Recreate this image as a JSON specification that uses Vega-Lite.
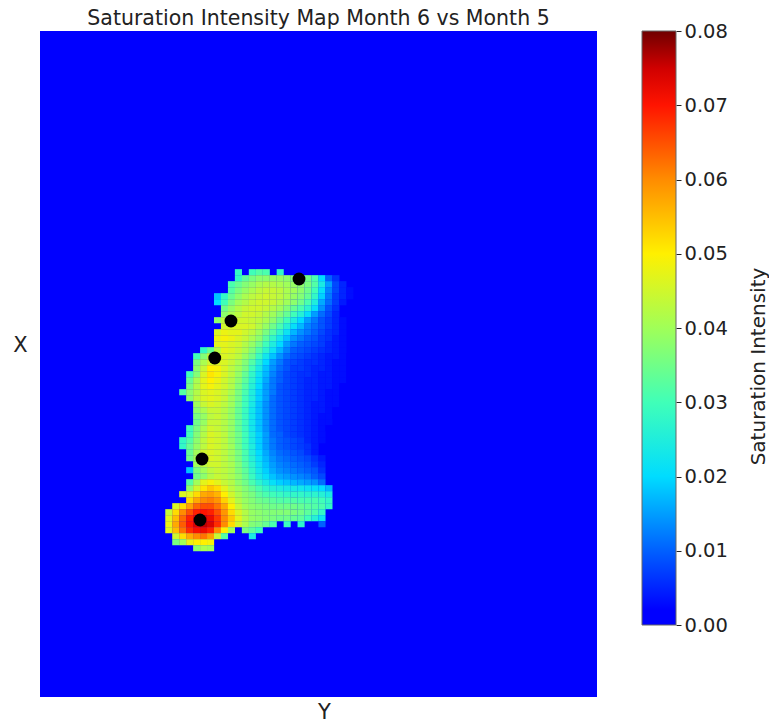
{"$schema":"https://vega.github.io/schema/vega-lite/v6.json","padding":{"left":12,"top":8,"right":93,"bottom":27},"background":"white","config":{"font":"DejaVu Sans","view":{"stroke":null}},"bounds":"flush","spacing":45,
"datasets":{"cells":[
{"c":28,"r":40,"v":0.028},{"c":30,"r":40,"v":0.03},{"c":31,"r":40,"v":0.032},{"c":32,"r":40,"v":0.031},{"c":34,"r":40,"v":0.028},
{"c":28,"r":41,"v":0.028},{"c":29,"r":41,"v":0.033},{"c":30,"r":41,"v":0.036},{"c":31,"r":41,"v":0.038},{"c":32,"r":41,"v":0.038},{"c":33,"r":41,"v":0.039},{"c":34,"r":41,"v":0.039},{"c":35,"r":41,"v":0.038},{"c":36,"r":41,"v":0.037},{"c":37,"r":41,"v":0.036},{"c":38,"r":41,"v":0.035},{"c":39,"r":41,"v":0.031},{"c":40,"r":41,"v":0.02},{"c":41,"r":41,"v":0.01},{"c":42,"r":41,"v":0.006},
{"c":27,"r":42,"v":0.031},{"c":28,"r":42,"v":0.034},{"c":29,"r":42,"v":0.037},{"c":30,"r":42,"v":0.039},{"c":31,"r":42,"v":0.041},{"c":32,"r":42,"v":0.042},{"c":33,"r":42,"v":0.042},{"c":34,"r":42,"v":0.041},{"c":35,"r":42,"v":0.04},{"c":36,"r":42,"v":0.039},{"c":37,"r":42,"v":0.038},{"c":38,"r":42,"v":0.036},{"c":39,"r":42,"v":0.032},{"c":40,"r":42,"v":0.024},{"c":41,"r":42,"v":0.015},{"c":42,"r":42,"v":0.008},{"c":43,"r":42,"v":0.005},
{"c":27,"r":43,"v":0.032},{"c":28,"r":43,"v":0.036},{"c":29,"r":43,"v":0.039},{"c":30,"r":43,"v":0.041},{"c":31,"r":43,"v":0.043},{"c":32,"r":43,"v":0.044},{"c":33,"r":43,"v":0.044},{"c":34,"r":43,"v":0.043},{"c":35,"r":43,"v":0.041},{"c":36,"r":43,"v":0.04},{"c":37,"r":43,"v":0.038},{"c":38,"r":43,"v":0.035},{"c":39,"r":43,"v":0.03},{"c":40,"r":43,"v":0.021},{"c":41,"r":43,"v":0.013},{"c":42,"r":43,"v":0.008},{"c":43,"r":43,"v":0.005},{"c":44,"r":43,"v":0.003},
{"c":25,"r":44,"v":0.018},{"c":26,"r":44,"v":0.028},{"c":27,"r":44,"v":0.034},{"c":28,"r":44,"v":0.038},{"c":29,"r":44,"v":0.041},{"c":30,"r":44,"v":0.043},{"c":31,"r":44,"v":0.044},{"c":32,"r":44,"v":0.045},{"c":33,"r":44,"v":0.044},{"c":34,"r":44,"v":0.043},{"c":35,"r":44,"v":0.041},{"c":36,"r":44,"v":0.039},{"c":37,"r":44,"v":0.037},{"c":38,"r":44,"v":0.034},{"c":39,"r":44,"v":0.028},{"c":40,"r":44,"v":0.019},{"c":41,"r":44,"v":0.012},{"c":42,"r":44,"v":0.007},{"c":43,"r":44,"v":0.005},{"c":44,"r":44,"v":0.003},
{"c":25,"r":45,"v":0.02},{"c":26,"r":45,"v":0.03},{"c":27,"r":45,"v":0.036},{"c":28,"r":45,"v":0.04},{"c":29,"r":45,"v":0.042},{"c":30,"r":45,"v":0.044},{"c":31,"r":45,"v":0.045},{"c":32,"r":45,"v":0.045},{"c":33,"r":45,"v":0.044},{"c":34,"r":45,"v":0.042},{"c":35,"r":45,"v":0.04},{"c":36,"r":45,"v":0.038},{"c":37,"r":45,"v":0.035},{"c":38,"r":45,"v":0.031},{"c":39,"r":45,"v":0.025},{"c":40,"r":45,"v":0.016},{"c":41,"r":45,"v":0.011},{"c":42,"r":45,"v":0.007},{"c":43,"r":45,"v":0.004},
{"c":26,"r":46,"v":0.035},{"c":27,"r":46,"v":0.039},{"c":28,"r":46,"v":0.042},{"c":29,"r":46,"v":0.044},{"c":30,"r":46,"v":0.045},{"c":31,"r":46,"v":0.045},{"c":32,"r":46,"v":0.044},{"c":33,"r":46,"v":0.042},{"c":34,"r":46,"v":0.04},{"c":35,"r":46,"v":0.037},{"c":36,"r":46,"v":0.034},{"c":37,"r":46,"v":0.031},{"c":38,"r":46,"v":0.027},{"c":39,"r":46,"v":0.021},{"c":40,"r":46,"v":0.014},{"c":41,"r":46,"v":0.009},{"c":42,"r":46,"v":0.006},
{"c":26,"r":47,"v":0.038},{"c":27,"r":47,"v":0.041},{"c":28,"r":47,"v":0.043},{"c":29,"r":47,"v":0.045},{"c":30,"r":47,"v":0.045},{"c":31,"r":47,"v":0.044},{"c":32,"r":47,"v":0.042},{"c":33,"r":47,"v":0.04},{"c":34,"r":47,"v":0.037},{"c":35,"r":47,"v":0.034},{"c":36,"r":47,"v":0.03},{"c":37,"r":47,"v":0.026},{"c":38,"r":47,"v":0.021},{"c":39,"r":47,"v":0.015},{"c":40,"r":47,"v":0.011},{"c":41,"r":47,"v":0.008},{"c":42,"r":47,"v":0.005},
{"c":25,"r":48,"v":0.038},{"c":26,"r":48,"v":0.043},{"c":27,"r":48,"v":0.045},{"c":28,"r":48,"v":0.045},{"c":29,"r":48,"v":0.045},{"c":30,"r":48,"v":0.044},{"c":31,"r":48,"v":0.043},{"c":32,"r":48,"v":0.041},{"c":33,"r":48,"v":0.038},{"c":34,"r":48,"v":0.034},{"c":35,"r":48,"v":0.03},{"c":36,"r":48,"v":0.025},{"c":37,"r":48,"v":0.02},{"c":38,"r":48,"v":0.015},{"c":39,"r":48,"v":0.012},{"c":40,"r":48,"v":0.009},{"c":41,"r":48,"v":0.007},{"c":42,"r":48,"v":0.005},{"c":43,"r":48,"v":0.003},
{"c":26,"r":49,"v":0.045},{"c":27,"r":49,"v":0.046},{"c":28,"r":49,"v":0.046},{"c":29,"r":49,"v":0.046},{"c":30,"r":49,"v":0.045},{"c":31,"r":49,"v":0.042},{"c":32,"r":49,"v":0.039},{"c":33,"r":49,"v":0.035},{"c":34,"r":49,"v":0.031},{"c":35,"r":49,"v":0.026},{"c":36,"r":49,"v":0.021},{"c":37,"r":49,"v":0.017},{"c":38,"r":49,"v":0.013},{"c":39,"r":49,"v":0.011},{"c":40,"r":49,"v":0.009},{"c":41,"r":49,"v":0.007},{"c":42,"r":49,"v":0.005},{"c":43,"r":49,"v":0.003},
{"c":25,"r":50,"v":0.046},{"c":26,"r":50,"v":0.048},{"c":27,"r":50,"v":0.047},{"c":28,"r":50,"v":0.047},{"c":29,"r":50,"v":0.045},{"c":30,"r":50,"v":0.043},{"c":31,"r":50,"v":0.04},{"c":32,"r":50,"v":0.036},{"c":33,"r":50,"v":0.032},{"c":34,"r":50,"v":0.027},{"c":35,"r":50,"v":0.022},{"c":36,"r":50,"v":0.017},{"c":37,"r":50,"v":0.014},{"c":38,"r":50,"v":0.012},{"c":39,"r":50,"v":0.01},{"c":40,"r":50,"v":0.008},{"c":41,"r":50,"v":0.006},{"c":42,"r":50,"v":0.005},{"c":43,"r":50,"v":0.003},
{"c":25,"r":51,"v":0.048},{"c":26,"r":51,"v":0.049},{"c":27,"r":51,"v":0.048},{"c":28,"r":51,"v":0.046},{"c":29,"r":51,"v":0.044},{"c":30,"r":51,"v":0.041},{"c":31,"r":51,"v":0.038},{"c":32,"r":51,"v":0.033},{"c":33,"r":51,"v":0.028},{"c":34,"r":51,"v":0.023},{"c":35,"r":51,"v":0.018},{"c":36,"r":51,"v":0.014},{"c":37,"r":51,"v":0.012},{"c":38,"r":51,"v":0.01},{"c":39,"r":51,"v":0.009},{"c":40,"r":51,"v":0.007},{"c":41,"r":51,"v":0.006},{"c":42,"r":51,"v":0.004},{"c":43,"r":51,"v":0.003},
{"c":25,"r":52,"v":0.047},{"c":26,"r":52,"v":0.047},{"c":27,"r":52,"v":0.046},{"c":28,"r":52,"v":0.045},{"c":29,"r":52,"v":0.042},{"c":30,"r":52,"v":0.039},{"c":31,"r":52,"v":0.035},{"c":32,"r":52,"v":0.03},{"c":33,"r":52,"v":0.025},{"c":34,"r":52,"v":0.02},{"c":35,"r":52,"v":0.015},{"c":36,"r":52,"v":0.012},{"c":37,"r":52,"v":0.01},{"c":38,"r":52,"v":0.009},{"c":39,"r":52,"v":0.008},{"c":40,"r":52,"v":0.007},{"c":41,"r":52,"v":0.005},{"c":42,"r":52,"v":0.004},{"c":43,"r":52,"v":0.003},
{"c":23,"r":53,"v":0.028},{"c":24,"r":53,"v":0.034},{"c":25,"r":53,"v":0.043},{"c":26,"r":53,"v":0.047},{"c":27,"r":53,"v":0.046},{"c":28,"r":53,"v":0.044},{"c":29,"r":53,"v":0.041},{"c":30,"r":53,"v":0.037},{"c":31,"r":53,"v":0.032},{"c":32,"r":53,"v":0.027},{"c":33,"r":53,"v":0.022},{"c":34,"r":53,"v":0.017},{"c":35,"r":53,"v":0.013},{"c":36,"r":53,"v":0.01},{"c":37,"r":53,"v":0.009},{"c":38,"r":53,"v":0.008},{"c":39,"r":53,"v":0.007},{"c":40,"r":53,"v":0.006},{"c":41,"r":53,"v":0.005},{"c":42,"r":53,"v":0.004},{"c":43,"r":53,"v":0.003},
{"c":22,"r":54,"v":0.03},{"c":23,"r":54,"v":0.037},{"c":24,"r":54,"v":0.043},{"c":25,"r":54,"v":0.046},{"c":26,"r":54,"v":0.046},{"c":27,"r":54,"v":0.045},{"c":28,"r":54,"v":0.043},{"c":29,"r":54,"v":0.039},{"c":30,"r":54,"v":0.035},{"c":31,"r":54,"v":0.029},{"c":32,"r":54,"v":0.023},{"c":33,"r":54,"v":0.018},{"c":34,"r":54,"v":0.014},{"c":35,"r":54,"v":0.011},{"c":36,"r":54,"v":0.009},{"c":37,"r":54,"v":0.008},{"c":38,"r":54,"v":0.007},{"c":39,"r":54,"v":0.006},{"c":40,"r":54,"v":0.005},{"c":41,"r":54,"v":0.004},{"c":42,"r":54,"v":0.004},{"c":43,"r":54,"v":0.003},{"c":44,"r":54,"v":0.002},{"c":45,"r":54,"v":0.002},
{"c":22,"r":55,"v":0.036},{"c":23,"r":55,"v":0.041},{"c":24,"r":55,"v":0.045},{"c":25,"r":55,"v":0.046},{"c":26,"r":55,"v":0.046},{"c":27,"r":55,"v":0.044},{"c":28,"r":55,"v":0.041},{"c":29,"r":55,"v":0.037},{"c":30,"r":55,"v":0.032},{"c":31,"r":55,"v":0.026},{"c":32,"r":55,"v":0.02},{"c":33,"r":55,"v":0.015},{"c":34,"r":55,"v":0.012},{"c":35,"r":55,"v":0.009},{"c":36,"r":55,"v":0.008},{"c":37,"r":55,"v":0.007},{"c":38,"r":55,"v":0.006},{"c":39,"r":55,"v":0.006},{"c":40,"r":55,"v":0.005},{"c":41,"r":55,"v":0.004},{"c":42,"r":55,"v":0.003},{"c":43,"r":55,"v":0.003},{"c":44,"r":55,"v":0.002},{"c":45,"r":55,"v":0.002},
{"c":22,"r":56,"v":0.038},{"c":23,"r":56,"v":0.044},{"c":24,"r":56,"v":0.05},{"c":25,"r":56,"v":0.049},{"c":26,"r":56,"v":0.046},{"c":27,"r":56,"v":0.043},{"c":28,"r":56,"v":0.04},{"c":29,"r":56,"v":0.036},{"c":30,"r":56,"v":0.03},{"c":31,"r":56,"v":0.024},{"c":32,"r":56,"v":0.018},{"c":33,"r":56,"v":0.014},{"c":34,"r":56,"v":0.011},{"c":35,"r":56,"v":0.009},{"c":36,"r":56,"v":0.007},{"c":37,"r":56,"v":0.007},{"c":38,"r":56,"v":0.006},{"c":39,"r":56,"v":0.005},{"c":40,"r":56,"v":0.005},{"c":41,"r":56,"v":0.004},{"c":42,"r":56,"v":0.003},{"c":43,"r":56,"v":0.003},{"c":44,"r":56,"v":0.002},{"c":45,"r":56,"v":0.002},
{"c":21,"r":57,"v":0.03},{"c":22,"r":57,"v":0.037},{"c":23,"r":57,"v":0.046},{"c":24,"r":57,"v":0.051},{"c":25,"r":57,"v":0.049},{"c":26,"r":57,"v":0.046},{"c":27,"r":57,"v":0.043},{"c":28,"r":57,"v":0.039},{"c":29,"r":57,"v":0.034},{"c":30,"r":57,"v":0.028},{"c":31,"r":57,"v":0.022},{"c":32,"r":57,"v":0.017},{"c":33,"r":57,"v":0.013},{"c":34,"r":57,"v":0.01},{"c":35,"r":57,"v":0.008},{"c":36,"r":57,"v":0.007},{"c":37,"r":57,"v":0.006},{"c":38,"r":57,"v":0.006},{"c":39,"r":57,"v":0.005},{"c":40,"r":57,"v":0.004},{"c":41,"r":57,"v":0.004},{"c":42,"r":57,"v":0.003},{"c":43,"r":57,"v":0.003},{"c":44,"r":57,"v":0.002},{"c":45,"r":57,"v":0.002},
{"c":21,"r":58,"v":0.034},{"c":22,"r":58,"v":0.041},{"c":23,"r":58,"v":0.047},{"c":24,"r":58,"v":0.05},{"c":25,"r":58,"v":0.048},{"c":26,"r":58,"v":0.045},{"c":27,"r":58,"v":0.042},{"c":28,"r":58,"v":0.038},{"c":29,"r":58,"v":0.033},{"c":30,"r":58,"v":0.027},{"c":31,"r":58,"v":0.021},{"c":32,"r":58,"v":0.016},{"c":33,"r":58,"v":0.012},{"c":34,"r":58,"v":0.01},{"c":35,"r":58,"v":0.008},{"c":36,"r":58,"v":0.007},{"c":37,"r":58,"v":0.006},{"c":38,"r":58,"v":0.005},{"c":39,"r":58,"v":0.005},{"c":40,"r":58,"v":0.004},{"c":41,"r":58,"v":0.004},{"c":42,"r":58,"v":0.003},{"c":43,"r":58,"v":0.003},{"c":44,"r":58,"v":0.002},{"c":45,"r":58,"v":0.002},
{"c":21,"r":59,"v":0.036},{"c":22,"r":59,"v":0.042},{"c":23,"r":59,"v":0.047},{"c":24,"r":59,"v":0.049},{"c":25,"r":59,"v":0.047},{"c":26,"r":59,"v":0.045},{"c":27,"r":59,"v":0.042},{"c":28,"r":59,"v":0.037},{"c":29,"r":59,"v":0.032},{"c":30,"r":59,"v":0.026},{"c":31,"r":59,"v":0.02},{"c":32,"r":59,"v":0.015},{"c":33,"r":59,"v":0.012},{"c":34,"r":59,"v":0.009},{"c":35,"r":59,"v":0.008},{"c":36,"r":59,"v":0.007},{"c":37,"r":59,"v":0.006},{"c":38,"r":59,"v":0.005},{"c":39,"r":59,"v":0.005},{"c":40,"r":59,"v":0.004},{"c":41,"r":59,"v":0.004},{"c":42,"r":59,"v":0.003},{"c":43,"r":59,"v":0.002},{"c":44,"r":59,"v":0.002},
{"c":20,"r":60,"v":0.032},{"c":21,"r":60,"v":0.038},{"c":22,"r":60,"v":0.042},{"c":23,"r":60,"v":0.046},{"c":24,"r":60,"v":0.047},{"c":25,"r":60,"v":0.046},{"c":26,"r":60,"v":0.044},{"c":27,"r":60,"v":0.041},{"c":28,"r":60,"v":0.036},{"c":29,"r":60,"v":0.031},{"c":30,"r":60,"v":0.025},{"c":31,"r":60,"v":0.019},{"c":32,"r":60,"v":0.015},{"c":33,"r":60,"v":0.012},{"c":34,"r":60,"v":0.009},{"c":35,"r":60,"v":0.008},{"c":36,"r":60,"v":0.007},{"c":37,"r":60,"v":0.006},{"c":38,"r":60,"v":0.005},{"c":39,"r":60,"v":0.005},{"c":40,"r":60,"v":0.004},{"c":41,"r":60,"v":0.003},{"c":42,"r":60,"v":0.003},{"c":43,"r":60,"v":0.002},{"c":44,"r":60,"v":0.002},
{"c":21,"r":61,"v":0.038},{"c":22,"r":61,"v":0.043},{"c":23,"r":61,"v":0.046},{"c":24,"r":61,"v":0.047},{"c":25,"r":61,"v":0.046},{"c":26,"r":61,"v":0.044},{"c":27,"r":61,"v":0.04},{"c":28,"r":61,"v":0.036},{"c":29,"r":61,"v":0.03},{"c":30,"r":61,"v":0.025},{"c":31,"r":61,"v":0.019},{"c":32,"r":61,"v":0.015},{"c":33,"r":61,"v":0.011},{"c":34,"r":61,"v":0.009},{"c":35,"r":61,"v":0.008},{"c":36,"r":61,"v":0.007},{"c":37,"r":61,"v":0.006},{"c":38,"r":61,"v":0.005},{"c":39,"r":61,"v":0.005},{"c":40,"r":61,"v":0.004},{"c":41,"r":61,"v":0.003},{"c":42,"r":61,"v":0.003},{"c":43,"r":61,"v":0.002},
{"c":22,"r":62,"v":0.04},{"c":23,"r":62,"v":0.044},{"c":24,"r":62,"v":0.046},{"c":25,"r":62,"v":0.045},{"c":26,"r":62,"v":0.043},{"c":27,"r":62,"v":0.04},{"c":28,"r":62,"v":0.035},{"c":29,"r":62,"v":0.03},{"c":30,"r":62,"v":0.024},{"c":31,"r":62,"v":0.018},{"c":32,"r":62,"v":0.014},{"c":33,"r":62,"v":0.011},{"c":34,"r":62,"v":0.009},{"c":35,"r":62,"v":0.008},{"c":36,"r":62,"v":0.007},{"c":37,"r":62,"v":0.006},{"c":38,"r":62,"v":0.005},{"c":39,"r":62,"v":0.004},{"c":40,"r":62,"v":0.004},{"c":41,"r":62,"v":0.003},{"c":42,"r":62,"v":0.003},{"c":43,"r":62,"v":0.002},
{"c":22,"r":63,"v":0.038},{"c":23,"r":63,"v":0.041},{"c":24,"r":63,"v":0.044},{"c":25,"r":63,"v":0.044},{"c":26,"r":63,"v":0.042},{"c":27,"r":63,"v":0.039},{"c":28,"r":63,"v":0.034},{"c":29,"r":63,"v":0.029},{"c":30,"r":63,"v":0.023},{"c":31,"r":63,"v":0.018},{"c":32,"r":63,"v":0.014},{"c":33,"r":63,"v":0.011},{"c":34,"r":63,"v":0.009},{"c":35,"r":63,"v":0.008},{"c":36,"r":63,"v":0.007},{"c":37,"r":63,"v":0.006},{"c":38,"r":63,"v":0.005},{"c":39,"r":63,"v":0.004},{"c":40,"r":63,"v":0.004},{"c":41,"r":63,"v":0.003},{"c":42,"r":63,"v":0.002},{"c":43,"r":63,"v":0.002},
{"c":22,"r":64,"v":0.036},{"c":23,"r":64,"v":0.039},{"c":24,"r":64,"v":0.043},{"c":25,"r":64,"v":0.044},{"c":26,"r":64,"v":0.042},{"c":27,"r":64,"v":0.039},{"c":28,"r":64,"v":0.034},{"c":29,"r":64,"v":0.029},{"c":30,"r":64,"v":0.023},{"c":31,"r":64,"v":0.018},{"c":32,"r":64,"v":0.014},{"c":33,"r":64,"v":0.011},{"c":34,"r":64,"v":0.009},{"c":35,"r":64,"v":0.008},{"c":36,"r":64,"v":0.007},{"c":37,"r":64,"v":0.006},{"c":38,"r":64,"v":0.005},{"c":39,"r":64,"v":0.004},{"c":40,"r":64,"v":0.003},{"c":41,"r":64,"v":0.003},{"c":42,"r":64,"v":0.002},
{"c":22,"r":65,"v":0.035},{"c":23,"r":65,"v":0.039},{"c":24,"r":65,"v":0.044},{"c":25,"r":65,"v":0.044},{"c":26,"r":65,"v":0.042},{"c":27,"r":65,"v":0.039},{"c":28,"r":65,"v":0.034},{"c":29,"r":65,"v":0.029},{"c":30,"r":65,"v":0.023},{"c":31,"r":65,"v":0.018},{"c":32,"r":65,"v":0.014},{"c":33,"r":65,"v":0.011},{"c":34,"r":65,"v":0.009},{"c":35,"r":65,"v":0.008},{"c":36,"r":65,"v":0.007},{"c":37,"r":65,"v":0.006},{"c":38,"r":65,"v":0.005},{"c":39,"r":65,"v":0.004},{"c":40,"r":65,"v":0.003},{"c":41,"r":65,"v":0.003},
{"c":21,"r":66,"v":0.03},{"c":22,"r":66,"v":0.036},{"c":23,"r":66,"v":0.041},{"c":24,"r":66,"v":0.045},{"c":25,"r":66,"v":0.044},{"c":26,"r":66,"v":0.042},{"c":27,"r":66,"v":0.039},{"c":28,"r":66,"v":0.034},{"c":29,"r":66,"v":0.029},{"c":30,"r":66,"v":0.023},{"c":31,"r":66,"v":0.018},{"c":32,"r":66,"v":0.014},{"c":33,"r":66,"v":0.011},{"c":34,"r":66,"v":0.009},{"c":35,"r":66,"v":0.008},{"c":36,"r":66,"v":0.007},{"c":37,"r":66,"v":0.006},{"c":38,"r":66,"v":0.005},{"c":39,"r":66,"v":0.004},{"c":40,"r":66,"v":0.003},{"c":41,"r":66,"v":0.002},
{"c":21,"r":67,"v":0.03},{"c":22,"r":67,"v":0.037},{"c":23,"r":67,"v":0.042},{"c":24,"r":67,"v":0.046},{"c":25,"r":67,"v":0.045},{"c":26,"r":67,"v":0.043},{"c":27,"r":67,"v":0.039},{"c":28,"r":67,"v":0.035},{"c":29,"r":67,"v":0.03},{"c":30,"r":67,"v":0.024},{"c":31,"r":67,"v":0.019},{"c":32,"r":67,"v":0.015},{"c":33,"r":67,"v":0.011},{"c":34,"r":67,"v":0.01},{"c":35,"r":67,"v":0.008},{"c":36,"r":67,"v":0.007},{"c":37,"r":67,"v":0.006},{"c":38,"r":67,"v":0.005},{"c":39,"r":67,"v":0.004},{"c":40,"r":67,"v":0.003},
{"c":20,"r":68,"v":0.028},{"c":21,"r":68,"v":0.032},{"c":22,"r":68,"v":0.038},{"c":23,"r":68,"v":0.043},{"c":24,"r":68,"v":0.046},{"c":25,"r":68,"v":0.045},{"c":26,"r":68,"v":0.043},{"c":27,"r":68,"v":0.039},{"c":28,"r":68,"v":0.035},{"c":29,"r":68,"v":0.03},{"c":30,"r":68,"v":0.024},{"c":31,"r":68,"v":0.019},{"c":32,"r":68,"v":0.015},{"c":33,"r":68,"v":0.012},{"c":34,"r":68,"v":0.01},{"c":35,"r":68,"v":0.009},{"c":36,"r":68,"v":0.008},{"c":37,"r":68,"v":0.007},{"c":38,"r":68,"v":0.005},{"c":39,"r":68,"v":0.004},{"c":40,"r":68,"v":0.003},
{"c":20,"r":69,"v":0.028},{"c":21,"r":69,"v":0.034},{"c":22,"r":69,"v":0.039},{"c":23,"r":69,"v":0.043},{"c":24,"r":69,"v":0.046},{"c":25,"r":69,"v":0.045},{"c":26,"r":69,"v":0.043},{"c":27,"r":69,"v":0.04},{"c":28,"r":69,"v":0.035},{"c":29,"r":69,"v":0.03},{"c":30,"r":69,"v":0.025},{"c":31,"r":69,"v":0.019},{"c":32,"r":69,"v":0.015},{"c":33,"r":69,"v":0.012},{"c":34,"r":69,"v":0.01},{"c":35,"r":69,"v":0.009},{"c":36,"r":69,"v":0.008},{"c":37,"r":69,"v":0.007},{"c":38,"r":69,"v":0.006},{"c":39,"r":69,"v":0.004},
{"c":21,"r":70,"v":0.034},{"c":22,"r":70,"v":0.04},{"c":23,"r":70,"v":0.045},{"c":24,"r":70,"v":0.046},{"c":25,"r":70,"v":0.045},{"c":26,"r":70,"v":0.043},{"c":27,"r":70,"v":0.04},{"c":28,"r":70,"v":0.036},{"c":29,"r":70,"v":0.031},{"c":30,"r":70,"v":0.025},{"c":31,"r":70,"v":0.02},{"c":32,"r":70,"v":0.016},{"c":33,"r":70,"v":0.013},{"c":34,"r":70,"v":0.011},{"c":35,"r":70,"v":0.01},{"c":36,"r":70,"v":0.009},{"c":37,"r":70,"v":0.008},{"c":38,"r":70,"v":0.006},{"c":39,"r":70,"v":0.004},
{"c":21,"r":71,"v":0.035},{"c":22,"r":71,"v":0.04},{"c":23,"r":71,"v":0.045},{"c":24,"r":71,"v":0.046},{"c":25,"r":71,"v":0.045},{"c":26,"r":71,"v":0.043},{"c":27,"r":71,"v":0.04},{"c":28,"r":71,"v":0.036},{"c":29,"r":71,"v":0.031},{"c":30,"r":71,"v":0.026},{"c":31,"r":71,"v":0.021},{"c":32,"r":71,"v":0.017},{"c":33,"r":71,"v":0.014},{"c":34,"r":71,"v":0.012},{"c":35,"r":71,"v":0.011},{"c":36,"r":71,"v":0.01},{"c":37,"r":71,"v":0.009},{"c":38,"r":71,"v":0.008},{"c":39,"r":71,"v":0.006},{"c":40,"r":71,"v":0.004},
{"c":22,"r":72,"v":0.04},{"c":23,"r":72,"v":0.043},{"c":24,"r":72,"v":0.045},{"c":25,"r":72,"v":0.045},{"c":26,"r":72,"v":0.043},{"c":27,"r":72,"v":0.041},{"c":28,"r":72,"v":0.037},{"c":29,"r":72,"v":0.032},{"c":30,"r":72,"v":0.027},{"c":31,"r":72,"v":0.022},{"c":32,"r":72,"v":0.018},{"c":33,"r":72,"v":0.015},{"c":34,"r":72,"v":0.013},{"c":35,"r":72,"v":0.012},{"c":36,"r":72,"v":0.011},{"c":37,"r":72,"v":0.01},{"c":38,"r":72,"v":0.009},{"c":39,"r":72,"v":0.007},{"c":40,"r":72,"v":0.005},
{"c":21,"r":73,"v":0.018},{"c":22,"r":73,"v":0.036},{"c":23,"r":73,"v":0.04},{"c":24,"r":73,"v":0.043},{"c":25,"r":73,"v":0.044},{"c":26,"r":73,"v":0.043},{"c":27,"r":73,"v":0.041},{"c":28,"r":73,"v":0.037},{"c":29,"r":73,"v":0.033},{"c":30,"r":73,"v":0.028},{"c":31,"r":73,"v":0.023},{"c":32,"r":73,"v":0.019},{"c":33,"r":73,"v":0.016},{"c":34,"r":73,"v":0.014},{"c":35,"r":73,"v":0.013},{"c":36,"r":73,"v":0.012},{"c":37,"r":73,"v":0.011},{"c":38,"r":73,"v":0.01},{"c":39,"r":73,"v":0.009},{"c":40,"r":73,"v":0.006},
{"c":22,"r":74,"v":0.035},{"c":23,"r":74,"v":0.038},{"c":24,"r":74,"v":0.042},{"c":25,"r":74,"v":0.044},{"c":26,"r":74,"v":0.043},{"c":27,"r":74,"v":0.041},{"c":28,"r":74,"v":0.038},{"c":29,"r":74,"v":0.034},{"c":30,"r":74,"v":0.029},{"c":31,"r":74,"v":0.024},{"c":32,"r":74,"v":0.021},{"c":33,"r":74,"v":0.018},{"c":34,"r":74,"v":0.016},{"c":35,"r":74,"v":0.015},{"c":36,"r":74,"v":0.014},{"c":37,"r":74,"v":0.013},{"c":38,"r":74,"v":0.012},{"c":39,"r":74,"v":0.01},{"c":40,"r":74,"v":0.008},
{"c":21,"r":75,"v":0.032},{"c":22,"r":75,"v":0.04},{"c":23,"r":75,"v":0.047},{"c":24,"r":75,"v":0.049},{"c":25,"r":75,"v":0.047},{"c":26,"r":75,"v":0.044},{"c":27,"r":75,"v":0.042},{"c":28,"r":75,"v":0.038},{"c":29,"r":75,"v":0.035},{"c":30,"r":75,"v":0.031},{"c":31,"r":75,"v":0.027},{"c":32,"r":75,"v":0.024},{"c":33,"r":75,"v":0.021},{"c":34,"r":75,"v":0.019},{"c":35,"r":75,"v":0.018},{"c":36,"r":75,"v":0.017},{"c":37,"r":75,"v":0.016},{"c":38,"r":75,"v":0.015},{"c":39,"r":75,"v":0.014},{"c":40,"r":75,"v":0.011},
{"c":21,"r":76,"v":0.038},{"c":22,"r":76,"v":0.045},{"c":23,"r":76,"v":0.051},{"c":24,"r":76,"v":0.054},{"c":25,"r":76,"v":0.052},{"c":26,"r":76,"v":0.047},{"c":27,"r":76,"v":0.043},{"c":28,"r":76,"v":0.04},{"c":29,"r":76,"v":0.037},{"c":30,"r":76,"v":0.034},{"c":31,"r":76,"v":0.031},{"c":32,"r":76,"v":0.028},{"c":33,"r":76,"v":0.026},{"c":34,"r":76,"v":0.025},{"c":35,"r":76,"v":0.024},{"c":36,"r":76,"v":0.024},{"c":37,"r":76,"v":0.023},{"c":38,"r":76,"v":0.022},{"c":39,"r":76,"v":0.021},{"c":40,"r":76,"v":0.02},{"c":41,"r":76,"v":0.017},
{"c":20,"r":77,"v":0.046},{"c":21,"r":77,"v":0.047},{"c":22,"r":77,"v":0.052},{"c":23,"r":77,"v":0.057},{"c":24,"r":77,"v":0.058},{"c":25,"r":77,"v":0.056},{"c":26,"r":77,"v":0.05},{"c":27,"r":77,"v":0.045},{"c":28,"r":77,"v":0.041},{"c":29,"r":77,"v":0.038},{"c":30,"r":77,"v":0.036},{"c":31,"r":77,"v":0.033},{"c":32,"r":77,"v":0.031},{"c":33,"r":77,"v":0.03},{"c":34,"r":77,"v":0.029},{"c":35,"r":77,"v":0.028},{"c":36,"r":77,"v":0.028},{"c":37,"r":77,"v":0.028},{"c":38,"r":77,"v":0.027},{"c":39,"r":77,"v":0.027},{"c":40,"r":77,"v":0.026},{"c":41,"r":77,"v":0.024},
{"c":21,"r":78,"v":0.052},{"c":22,"r":78,"v":0.057},{"c":23,"r":78,"v":0.06},{"c":24,"r":78,"v":0.061},{"c":25,"r":78,"v":0.059},{"c":26,"r":78,"v":0.053},{"c":27,"r":78,"v":0.047},{"c":28,"r":78,"v":0.042},{"c":29,"r":78,"v":0.039},{"c":30,"r":78,"v":0.037},{"c":31,"r":78,"v":0.035},{"c":32,"r":78,"v":0.034},{"c":33,"r":78,"v":0.033},{"c":34,"r":78,"v":0.032},{"c":35,"r":78,"v":0.032},{"c":36,"r":78,"v":0.032},{"c":37,"r":78,"v":0.031},{"c":38,"r":78,"v":0.031},{"c":39,"r":78,"v":0.031},{"c":40,"r":78,"v":0.03},{"c":41,"r":78,"v":0.028},
{"c":19,"r":79,"v":0.046},{"c":20,"r":79,"v":0.052},{"c":21,"r":79,"v":0.058},{"c":22,"r":79,"v":0.063},{"c":23,"r":79,"v":0.065},{"c":24,"r":79,"v":0.065},{"c":25,"r":79,"v":0.062},{"c":26,"r":79,"v":0.057},{"c":27,"r":79,"v":0.05},{"c":28,"r":79,"v":0.044},{"c":29,"r":79,"v":0.04},{"c":30,"r":79,"v":0.038},{"c":31,"r":79,"v":0.037},{"c":32,"r":79,"v":0.036},{"c":33,"r":79,"v":0.035},{"c":34,"r":79,"v":0.035},{"c":35,"r":79,"v":0.035},{"c":36,"r":79,"v":0.035},{"c":37,"r":79,"v":0.034},{"c":38,"r":79,"v":0.033},{"c":39,"r":79,"v":0.032},{"c":40,"r":79,"v":0.031},{"c":41,"r":79,"v":0.028},
{"c":18,"r":80,"v":0.044},{"c":19,"r":80,"v":0.052},{"c":20,"r":80,"v":0.06},{"c":21,"r":80,"v":0.065},{"c":22,"r":80,"v":0.069},{"c":23,"r":80,"v":0.07},{"c":24,"r":80,"v":0.069},{"c":25,"r":80,"v":0.065},{"c":26,"r":80,"v":0.059},{"c":27,"r":80,"v":0.052},{"c":28,"r":80,"v":0.046},{"c":29,"r":80,"v":0.042},{"c":30,"r":80,"v":0.039},{"c":31,"r":80,"v":0.038},{"c":32,"r":80,"v":0.037},{"c":33,"r":80,"v":0.037},{"c":34,"r":80,"v":0.037},{"c":35,"r":80,"v":0.037},{"c":36,"r":80,"v":0.036},{"c":37,"r":80,"v":0.035},{"c":38,"r":80,"v":0.033},{"c":39,"r":80,"v":0.031},{"c":40,"r":80,"v":0.028},
{"c":18,"r":81,"v":0.047},{"c":19,"r":81,"v":0.055},{"c":20,"r":81,"v":0.063},{"c":21,"r":81,"v":0.069},{"c":22,"r":81,"v":0.072},{"c":23,"r":81,"v":0.074},{"c":24,"r":81,"v":0.072},{"c":25,"r":81,"v":0.067},{"c":26,"r":81,"v":0.06},{"c":27,"r":81,"v":0.054},{"c":28,"r":81,"v":0.047},{"c":29,"r":81,"v":0.042},{"c":30,"r":81,"v":0.039},{"c":31,"r":81,"v":0.038},{"c":32,"r":81,"v":0.037},{"c":33,"r":81,"v":0.036},{"c":34,"r":81,"v":0.035},{"c":35,"r":81,"v":0.035},{"c":36,"r":81,"v":0.034},{"c":37,"r":81,"v":0.033},{"c":38,"r":81,"v":0.03},{"c":39,"r":81,"v":0.026},{"c":40,"r":81,"v":0.022},
{"c":18,"r":82,"v":0.048},{"c":19,"r":82,"v":0.057},{"c":20,"r":82,"v":0.064},{"c":21,"r":82,"v":0.07},{"c":22,"r":82,"v":0.074},{"c":23,"r":82,"v":0.076},{"c":24,"r":82,"v":0.074},{"c":25,"r":82,"v":0.068},{"c":26,"r":82,"v":0.06},{"c":27,"r":82,"v":0.052},{"c":28,"r":82,"v":0.045},{"c":29,"r":82,"v":0.041},{"c":30,"r":82,"v":0.037},{"c":31,"r":82,"v":0.036},{"c":32,"r":82,"v":0.034},{"c":33,"r":82,"v":0.031},{"c":35,"r":82,"v":0.029},{"c":37,"r":82,"v":0.027},{"c":40,"r":82,"v":0.01},
{"c":18,"r":83,"v":0.047},{"c":19,"r":83,"v":0.055},{"c":20,"r":83,"v":0.062},{"c":21,"r":83,"v":0.068},{"c":22,"r":83,"v":0.071},{"c":23,"r":83,"v":0.072},{"c":24,"r":83,"v":0.069},{"c":25,"r":83,"v":0.06},{"c":26,"r":83,"v":0.05},{"c":27,"r":83,"v":0.04},{"c":29,"r":83,"v":0.036},{"c":30,"r":83,"v":0.033},{"c":31,"r":83,"v":0.03},
{"c":19,"r":84,"v":0.045},{"c":20,"r":84,"v":0.052},{"c":21,"r":84,"v":0.057},{"c":22,"r":84,"v":0.06},{"c":23,"r":84,"v":0.062},{"c":24,"r":84,"v":0.058},{"c":25,"r":84,"v":0.044},{"c":26,"r":84,"v":0.032},{"c":30,"r":84,"v":0.024},
{"c":19,"r":85,"v":0.036},{"c":20,"r":85,"v":0.04},{"c":21,"r":85,"v":0.048},{"c":22,"r":85,"v":0.05},{"c":23,"r":85,"v":0.05},{"c":24,"r":85,"v":0.049},
{"c":22,"r":86,"v":0.038},{"c":23,"r":86,"v":0.041},{"c":24,"r":86,"v":0.04}
],
"dots":[{"c":36.7,"r":41.13},{"c":26.93,"r":48.13},{"c":24.6,"r":54.3},{"c":22.77,"r":71.13},{"c":22.48,"r":81.3}],
"bar":[{"lo":0,"hi":0.08}]},
"hconcat":[
{"width":557,"height":666,"view":{"fill":"#0000ff","stroke":null},
"title":{"text":"Saturation Intensity Map Month 6 vs Month 5","fontSize":20.5,"fontWeight":"normal","font":"DejaVu Sans","color":"#222222","offset":2},
"encoding":{
"x":{"field":"c","type":"quantitative","scale":{"domain":[-0.5,79.5],"nice":false,"zero":false},"axis":{"title":"Y","labels":false,"ticks":false,"domain":false,"grid":false,"titleFontSize":21,"titleFontWeight":"normal","titleFont":"DejaVu Sans","titleColor":"#222222","titleX":284,"titleY":15,"titleBaseline":"middle"}},
"y":{"field":"r","type":"quantitative","scale":{"domain":[-0.2,110.8],"reverse":true,"nice":false,"zero":false},"axis":{"title":"X","labels":false,"ticks":false,"domain":false,"grid":false,"titleFontSize":21,"titleFontWeight":"normal","titleFont":"DejaVu Sans","titleColor":"#222222","titleAngle":0,"titleX":-20,"titleY":314,"titleBaseline":"middle","titleAlign":"center"}}},
"layer":[
{"data":{"name":"cells"},"mark":{"type":"rect","width":7.1,"height":6.1},
"encoding":{
"color":{"field":"v","type":"quantitative","legend":null,"scale":{"domain":[0,0.002,0.01,0.02,0.03,0.04,0.05,0.06,0.07,0.075,0.08],"range":["#0000ff","#0000ff","#0060ff","#00dcff","#40ffb8","#a0ff58","#fff000","#ff8c00","#ff1400","#d00000","#700000"],"interpolate":"rgb"}}}},
{"data":{"name":"dots"},"mark":{"type":"circle","size":165,"color":"#000000","opacity":1}}
]},
{"width":34,"height":594,"data":{"name":"bar"},
"mark":{"type":"rect","stroke":"#666666","strokeWidth":1,"color":{"gradient":"linear","x1":0,"y1":1,"x2":0,"y2":0,"stops":[{"offset":0,"color":"#0000ff"},{"offset":0.025,"color":"#0000ff"},{"offset":0.125,"color":"#0060ff"},{"offset":0.25,"color":"#00dcff"},{"offset":0.375,"color":"#40ffb8"},{"offset":0.5,"color":"#a0ff58"},{"offset":0.625,"color":"#fff000"},{"offset":0.75,"color":"#ff8c00"},{"offset":0.875,"color":"#ff1400"},{"offset":0.9375,"color":"#d00000"},{"offset":1,"color":"#700000"}]}},
"encoding":{"y":{"field":"lo","type":"quantitative","scale":{"domain":[0,0.08],"nice":false},"axis":{"orient":"right","title":"Saturation Intensity","values":[0,0.01,0.02,0.03,0.04,0.05,0.06,0.07,0.08],"format":".2f","grid":false,"domain":false,"tickColor":"#222222","tickSize":5,"labelFontSize":19.5,"labelFont":"DejaVu Sans","labelColor":"#222222","labelPadding":3,"titleFontSize":20,"titleFontWeight":"normal","titleFont":"DejaVu Sans","titleColor":"#222222","titleAngle":270,"titleX":82,"titleY":335,"titleBaseline":"middle","titleAlign":"center"}},"y2":{"field":"hi"}}}
]}
